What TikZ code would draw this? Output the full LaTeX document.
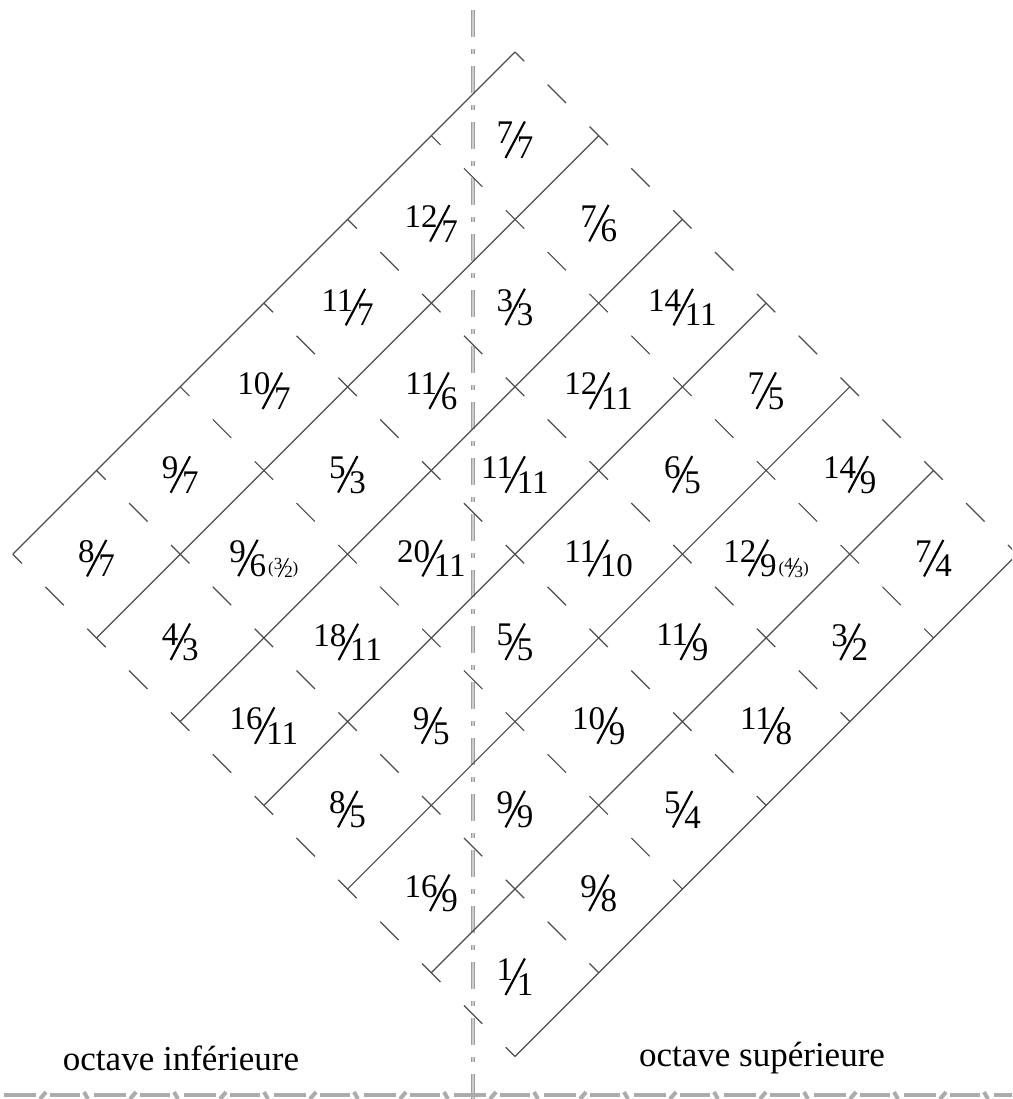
\documentclass[tikz,border=0pt]{standalone}
\usepackage{fontspec}
\setmainfont{Liberation Serif}
\usepackage{graphicx}
\newcommand{\frc}[2]{\raisebox{.22em}{#1}\kern-.26em\raisebox{-.22em}{\rotatebox{62}{\rule{1.25em}{.065em}}}\kern-.27em\raisebox{-.22em}{#2}}
\newcommand{\alt}[2]{\kern.06em\raisebox{-.12em}{\fontsize{17}{19}\selectfont(\frc{#1}{#2})}}
\begin{document}
\begin{tikzpicture}[x=1pt, y=-1pt,
    grid/.style={line width=1.2pt, black!70},
    tick/.style={grid, dash pattern=on 26pt off 33.18pt, dash phase=13pt},
    axis/.style={draw=gray!75, double=gray!40, line width=1.4pt, double distance=1.6pt,
        dash pattern=on 27pt off 12pt on 5pt off 12pt},
    band/.style={gray!65, line width=4pt},
    ratio/.style={font=\fontsize{33}{36}\selectfont, inner sep=0pt, yshift=-4pt},
    octave/.style={font=\fontsize{35}{40}\selectfont}]
    \useasboundingbox (0,0) rectangle (1012,1099);
    \clip (0,0) rectangle (1012,1099);

    % Axis
    \draw[axis] (473,10) -- (473,1099);

    % Diamond
    \begin{scope}[shift={(515,52)}, x={(83.7pt,-83.7pt)}, y={(-83.7pt,-83.7pt)}]
        \foreach \k in {0,...,6} {
            \draw[grid] (\k,0) -- (\k,6);
            \draw[tick] (0,\k) -- (6,\k);
        }
        \foreach \i/\j/\r in {
            0/0/{\frc{7}{7}}, 1/0/{\frc{7}{6}}, 2/0/{\frc{14}{11}}, 3/0/{\frc{7}{5}}, 4/0/{\frc{14}{9}}, 5/0/{\frc{7}{4}},
            0/1/{\frc{12}{7}}, 1/1/{\frc{3}{3}}, 2/1/{\frc{12}{11}}, 3/1/{\frc{6}{5}}, 4/1/{\frc{12}{9}\alt{4}{3}}, 5/1/{\frc{3}{2}},
            0/2/{\frc{11}{7}}, 1/2/{\frc{11}{6}}, 2/2/{\frc{11}{11}}, 3/2/{\frc{11}{10}}, 4/2/{\frc{11}{9}}, 5/2/{\frc{11}{8}},
            0/3/{\frc{10}{7}}, 1/3/{\frc{5}{3}}, 2/3/{\frc{20}{11}}, 3/3/{\frc{5}{5}}, 4/3/{\frc{10}{9}}, 5/3/{\frc{5}{4}},
            0/4/{\frc{9}{7}}, 1/4/{\frc{9}{6}\alt{3}{2}}, 2/4/{\frc{18}{11}}, 3/4/{\frc{9}{5}}, 4/4/{\frc{9}{9}}, 5/4/{\frc{9}{8}},
            0/5/{\frc{8}{7}}, 1/5/{\frc{4}{3}}, 2/5/{\frc{16}{11}}, 3/5/{\frc{8}{5}}, 4/5/{\frc{16}{9}}, 5/5/{\frc{1}{1}}}
            \node[ratio] (r\i\j) at (\i+0.5,\j+0.5) {\r};
    \end{scope}

    % Octaves
    \node[octave] (low) at (181,1058) {octave inférieure};
    \node[octave] (high) at (762,1058) {octave supérieure};

    % Bottom band
    \foreach \x in {0,90,...,990} {
        \draw[band] (\x+4,1095) -- (\x+36,1095);
        \draw[band] (\x+40,1099) -- (\x+46,1092);
        \draw[band] (\x+50,1095) -- (\x+80,1095);
        \draw[band] (\x+84,1092) -- (\x+88,1099);
    }
\end{tikzpicture}
\end{document}
